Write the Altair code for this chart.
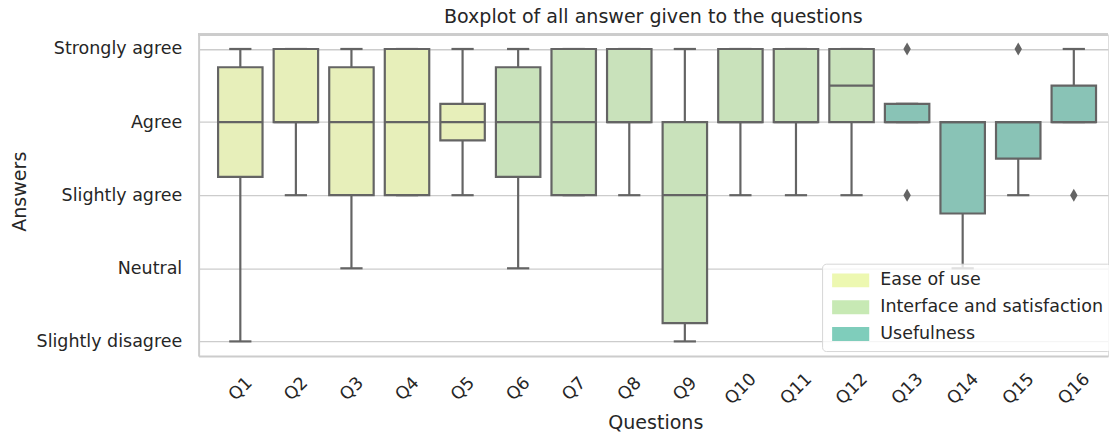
import json
import altair as alt
import pandas as pd

questions = ["Q1", "Q2", "Q3", "Q4", "Q5", "Q6", "Q7", "Q8",
             "Q9", "Q10", "Q11", "Q12", "Q13", "Q14", "Q15", "Q16"]
groups = (["Ease of use"] * 5 + ["Interface and satisfaction"] * 7 + ["Usefulness"] * 4)
group_names = ["Ease of use", "Interface and satisfaction", "Usefulness"]
answer_labels = ["Slightly disagree", "Neutral", "Slightly agree", "Agree", "Strongly agree"]
answer_values = [3, 4, 5, 6, 7]

whisker_low = [3, 5, 4, 5, 5, 4, 5, 5, 3, 5, 5, 5, 6, 4, 5, 6]
quartile1 = [5.25, 6, 5, 5, 5.75, 5.25, 5, 6, 3.25, 6, 6, 6, 6, 4.75, 5.5, 6]
medians = [6, 6, 6, 6, 6, 6, 6, 6, 5, 6, 6, 6.5, 6, 6, 6, 6]
quartile3 = [6.75, 7, 6.75, 7, 6.25, 6.75, 7, 7, 6, 7, 7, 7, 6.25, 6, 6, 6.5]
whisker_high = [7, 7, 7, 7, 7, 7, 7, 7, 7, 7, 7, 7, 6.25, 6, 6, 7]

outlier_questions = ["Q13", "Q13", "Q15", "Q16"]
outlier_values = [7, 5, 7, 5]

legend_colors = ["#edf8b1", "#c7e9b4", "#7fcdbb"]
box_colors = ["#e7efba", "#c9e2bb", "#89c3b6"]
line_color = "#646464"
text_color = "#262626"
grid_color = "#cccccc"

df = pd.DataFrame({
    "q": questions,
    "i": list(range(len(questions))),
    "group": groups,
    "lo": whisker_low,
    "q1": quartile1,
    "med": medians,
    "q3": quartile3,
    "hi": whisker_high,
})
out_df = pd.DataFrame({
    "q": outlier_questions,
    "i": [questions.index(q) for q in outlier_questions],
    "v": outlier_values,
})
legend_df = pd.DataFrame({"category": group_names, "i": [0, 5, 12], "v": [6, 6, 6]})

W, H = 916, 324
FONT = "DejaVu Sans"

x_scale = alt.Scale(domain=[-0.7504, 15.6155], nice=False, zero=False)
y_scale = alt.Scale(domain=[2.8, 7.2], nice=False, zero=False)

x_label_expr = json.dumps(questions) + "[datum.value]"
y_label_expr = json.dumps(answer_labels) + "[datum.value - 3]"

x_axis = alt.Axis(
    values=list(range(len(questions))), labelExpr=x_label_expr,
    grid=False, ticks=False, tickSize=0,
    labelAngle=315, labelAlign="center", labelBaseline="middle", labelPadding=33,
    labelFontSize=17.6, labelColor=text_color, labelFont=FONT,
    domainColor=grid_color, domainWidth=2,
    title="Questions", titleFontSize=19.2, titleFontWeight="normal", titleColor=text_color,
    titleFont=FONT, titleX=460, titleY=73, titleBaseline="alphabetic", titleAlign="center",
)
y_axis = alt.Axis(
    values=answer_values, labelExpr=y_label_expr,
    grid=True, gridColor=grid_color, gridWidth=1.3,
    ticks=False, tickSize=0, labelPadding=17,
    labelFontSize=17.6, labelColor=text_color, labelFont=FONT,
    domainColor=grid_color, domainWidth=2,
    title="Answers", titleFontSize=19.2, titleFontWeight="normal", titleColor=text_color,
    titleFont=FONT, titleX=-174, titleY=158, titleAngle=270, titleBaseline="alphabetic",
    titleAlign="center",
)


def X(field):
    return alt.X(field, type="quantitative", scale=x_scale, axis=x_axis, title="Questions")


def Y(field):
    return alt.Y(field, type="quantitative", scale=y_scale, axis=y_axis, title="Answers")


base = alt.Chart(df).transform_calculate(
    xl="datum.i - 0.4", xr="datum.i + 0.4", cl="datum.i - 0.2", cr="datum.i + 0.2"
)

whisk_lo = base.mark_rule(color=line_color, strokeWidth=2.2).encode(
    x=X("i"), y=Y("lo"), y2="q1")
whisk_hi = base.mark_rule(color=line_color, strokeWidth=2.2).encode(
    x=X("i"), y=Y("q3"), y2="hi")
cap_lo = base.mark_rule(color=line_color, strokeWidth=2.2).encode(
    x=X("cl"), x2="cr", y=Y("lo"))
cap_hi = base.mark_rule(color=line_color, strokeWidth=2.2).encode(
    x=X("cl"), x2="cr", y=Y("hi"))
boxes = base.mark_rect(stroke=line_color, strokeWidth=2.2).encode(
    x=X("xl"), x2="xr", y=Y("q1"), y2="q3",
    fill=alt.Fill("group:N", scale=alt.Scale(range=box_colors), legend=None),
)
med_line = base.mark_rule(color=line_color, strokeWidth=2.2).encode(
    x=X("xl"), x2="xr", y=Y("med"))

outliers = alt.Chart(out_df).mark_point(
    shape="M0,-1L0.58,0L0,1L-0.58,0Z", filled=True, size=169, color=line_color, opacity=1
).encode(x=X("i"), y=Y("v"))

legend_layer = alt.Chart(legend_df).mark_square(size=0).encode(
    x=X("i"), y=Y("v"),
    color=alt.Color(
        "category:N",
        scale=alt.Scale(domain=group_names, range=legend_colors),
        legend=alt.Legend(
            title=None, orient="none", legendX=628, legendY=231,
            symbolType="M-2.67,-1H2.67V1H-2.67Z", symbolSize=196,
            symbolStrokeWidth=0, symbolOpacity=1, symbolOffset=12,
            labelOffset=21, labelFontSize=17.6, labelFont=FONT, labelColor=text_color,
            labelLimit=400, rowPadding=8, padding=8,
            strokeColor="#d6d6d6", fillColor="rgba(255,255,255,0.8)", cornerRadius=4,
        ),
    ),
)

top_frame = alt.Chart(df).mark_rule(color=grid_color, strokeWidth=2).encode(
    y=alt.value(0), x=alt.value(0), x2=alt.value(W))

chart = alt.layer(
    top_frame, whisk_lo, whisk_hi, cap_lo, cap_hi, boxes, med_line, outliers, legend_layer
).properties(
    width=W, height=H,
    title=alt.TitleParams(
        "Boxplot of all answer given to the questions",
        fontSize=19.2, font=FONT, fontWeight="normal", color=text_color,
        anchor="middle", baseline="bottom", offset=8, dy=20.5,
    ),
    autosize=alt.AutoSizeParams(type="none"),
    padding={"left": 192, "top": 25, "right": 1, "bottom": 78},
).configure_view(stroke=None).configure(font=FONT, background="white")

chart.save("out.html", embed_options={"renderer": "svg", "actions": False})
